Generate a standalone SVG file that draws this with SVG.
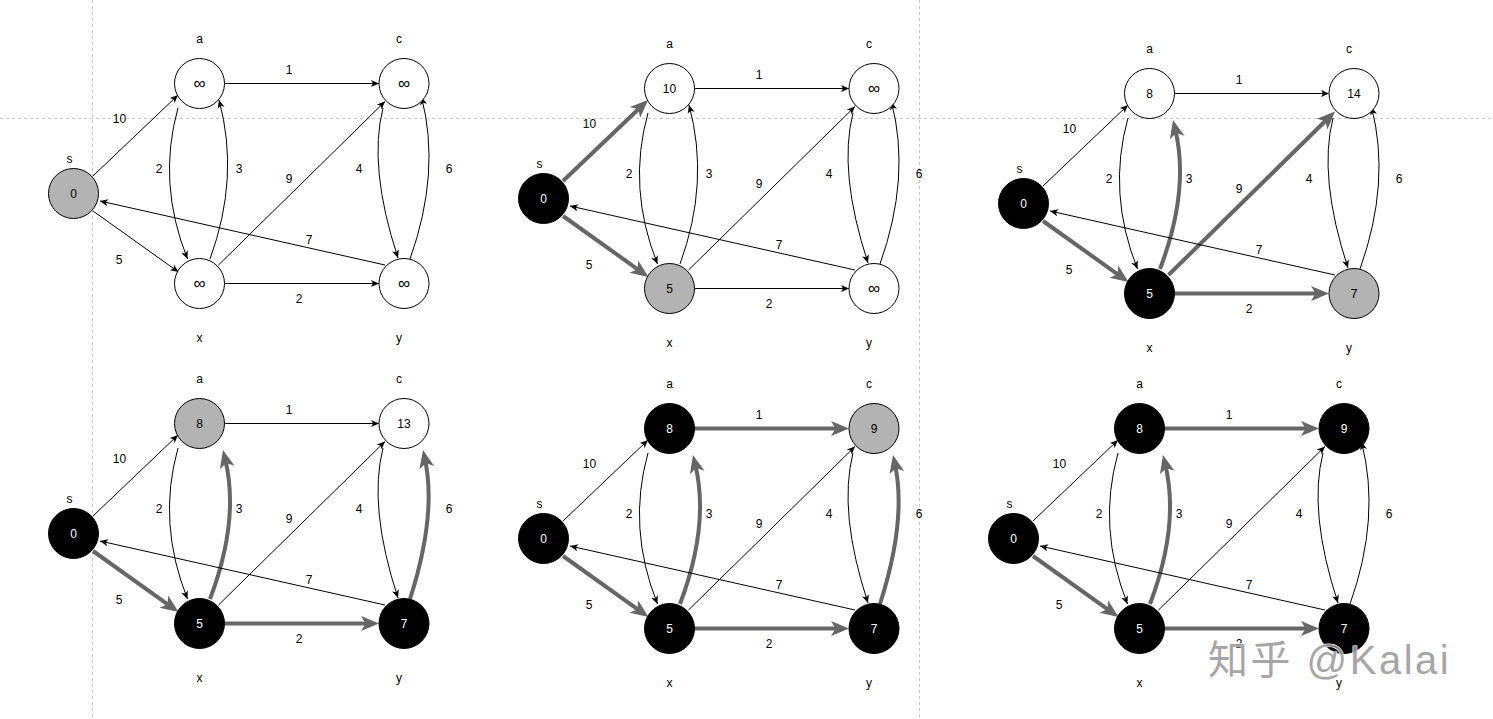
<svg xmlns="http://www.w3.org/2000/svg" width="1493" height="719" viewBox="0 0 1493 719">
<style>
.guide{stroke:#c8c8c8;stroke-width:1;stroke-dasharray:3 3;fill:none}
.e{stroke:#000;stroke-width:1;fill:none;marker-end:url(#ah)}
.E{stroke:#666;stroke-width:4;fill:none;marker-end:url(#ahT)}
.nw{fill:#fff;stroke:#000;stroke-width:1}
.ng{fill:#b3b3b3;stroke:#000;stroke-width:1}
.nb{fill:#000;stroke:#000;stroke-width:1}
text{font-family:"Liberation Sans",Arial,sans-serif;font-size:12px;text-anchor:middle;fill:#000}
.w{fill:#fff}
.inf{font-size:17px}
.wm{font-family:"Liberation Sans","Noto Sans CJK SC",sans-serif;font-size:40px;text-anchor:start;fill:#9a9a9a;fill-opacity:0.9;stroke:#fff;stroke-width:1;paint-order:stroke;letter-spacing:2.5px}
</style>
<defs>
<marker id="ah" markerUnits="userSpaceOnUse" markerWidth="10" markerHeight="8" refX="8" refY="3.5" orient="auto" overflow="visible"><path d="M0,0 L8,3.5 L0,7 L2,3.5 z" fill="#000"/></marker>
<marker id="ahT" markerUnits="userSpaceOnUse" markerWidth="19" markerHeight="16" refX="9" refY="7.5" orient="auto" overflow="visible"><path d="M0,0 L18,7.5 L0,15 L4.5,7.5 z" fill="#666"/></marker>
</defs>
<rect width="1493" height="719" fill="#fff"/>
<g id="guides">
<line class="guide" x1="0" y1="118.5" x2="1493" y2="118.5"/>
<line class="guide" x1="92.5" y1="0" x2="92.5" y2="719"/>
<line class="guide" x1="919.5" y1="0" x2="919.5" y2="719"/>
</g>

<g id="panel1" transform="translate(0,0)">
<g id="p1-connectors">
<path class="e" d="M93,176 L178,95"/>
<path class="e" d="M93,211 L178.5,272"/>
<path class="e" d="M224.5,83.5 L379,83.5"/>
<path class="e" d="M224.5,283.5 L379,283.5"/>
<path class="e" d="M178,108 Q157,183 187.5,259"/>
<path class="e" d="M210,259 Q240,177 219,100"/>
<path class="e" d="M218.5,265 L385,101.5"/>
<path class="e" d="M383,108 Q368,167 398,258"/>
<path class="e" d="M410,259 Q441,172 421.5,97"/>
<path class="e" d="M385,265 L100,201"/>
<text x="119.5" y="122.5">10</text><text x="289" y="73.5">1</text><text x="159" y="172.5">2</text><text x="239" y="172.5">3</text><text x="289" y="182.5">9</text><text x="359" y="172.5">4</text><text x="449" y="172.5">6</text><text x="309" y="243.5">7</text><text x="119" y="263.5">5</text><text x="299" y="302.5">2</text>
</g>
<g id="p1-s"><circle class="ng" cx="73.5" cy="193.5" r="25"/><text x="73.5" y="197.8">0</text><text x="69.5" y="162.7">s</text></g>
<g id="p1-a"><circle class="nw" cx="199.5" cy="83.5" r="25"/><text class="inf" x="199.5" y="89">∞</text><text x="199.5" y="43.3">a</text></g>
<g id="p1-c"><circle class="nw" cx="404" cy="83.5" r="25"/><text class="inf" x="404" y="89">∞</text><text x="399" y="43.3">c</text></g>
<g id="p1-x"><circle class="nw" cx="199.5" cy="283.5" r="25"/><text class="inf" x="199.5" y="289">∞</text><text x="199.5" y="342">x</text></g>
<g id="p1-y"><circle class="nw" cx="404" cy="283.5" r="25"/><text class="inf" x="404" y="289">∞</text><text x="399" y="342">y</text></g>
</g>

<g id="panel2" transform="translate(470,5)">
<g id="p2-connectors">
<path class="E" d="M93,176 L171.5,101.2"/>
<path class="E" d="M93,211 L171.2,266.8"/>
<path class="e" d="M224.5,83.5 L379,83.5"/>
<path class="e" d="M224.5,283.5 L379,283.5"/>
<path class="e" d="M178,108 Q157,183 187.5,259"/>
<path class="e" d="M210,259 Q240,177 219,100"/>
<path class="e" d="M218.5,265 L385,101.5"/>
<path class="e" d="M383,108 Q368,167 398,258"/>
<path class="e" d="M410,259 Q441,172 421.5,97"/>
<path class="e" d="M385,265 L100,201"/>
<text x="119.5" y="122.5">10</text><text x="289" y="73.5">1</text><text x="159" y="172.5">2</text><text x="239" y="172.5">3</text><text x="289" y="182.5">9</text><text x="359" y="172.5">4</text><text x="449" y="172.5">6</text><text x="309" y="243.5">7</text><text x="119" y="263.5">5</text><text x="299" y="302.5">2</text>
</g>
<g id="p2-s"><circle class="nb" cx="73.5" cy="193.5" r="25"/><text class="w" x="73.5" y="197.8">0</text><text x="69.5" y="162.7">s</text></g>
<g id="p2-a"><circle class="nw" cx="199.5" cy="83.5" r="25"/><text x="199.5" y="87.8">10</text><text x="199.5" y="43.3">a</text></g>
<g id="p2-c"><circle class="nw" cx="404" cy="83.5" r="25"/><text class="inf" x="404" y="89">∞</text><text x="399" y="43.3">c</text></g>
<g id="p2-x"><circle class="ng" cx="199.5" cy="283.5" r="25"/><text x="199.5" y="287.8">5</text><text x="199.5" y="342">x</text></g>
<g id="p2-y"><circle class="nw" cx="404" cy="283.5" r="25"/><text class="inf" x="404" y="289">∞</text><text x="399" y="342">y</text></g>
</g>

<g id="panel3" transform="translate(950,10)">
<g id="p3-connectors">
<path class="e" d="M93,176 L178,95"/>
<path class="E" d="M93,211 L171.2,266.8"/>
<path class="e" d="M224.5,83.5 L379,83.5"/>
<path class="E" d="M224.5,283.5 L370,283.5"/>
<path class="e" d="M178,108 Q157,183 187.5,259"/>
<path class="E" d="M210,259 Q240,180 225.1,118.7"/>
<path class="E" d="M218.5,265 L378.6,107.8"/>
<path class="e" d="M383,108 Q368,167 398,258"/>
<path class="e" d="M410,259 Q441,172 421.5,97"/>
<path class="e" d="M385,265 L100,201"/>
<text x="119.5" y="122.5">10</text><text x="289" y="73.5">1</text><text x="159" y="172.5">2</text><text x="239" y="172.5">3</text><text x="289" y="182.5">9</text><text x="359" y="172.5">4</text><text x="449" y="172.5">6</text><text x="309" y="243.5">7</text><text x="119" y="263.5">5</text><text x="299" y="302.5">2</text>
</g>
<g id="p3-s"><circle class="nb" cx="73.5" cy="193.5" r="25"/><text class="w" x="73.5" y="197.8">0</text><text x="69.5" y="162.7">s</text></g>
<g id="p3-a"><circle class="nw" cx="199.5" cy="83.5" r="25"/><text x="199.5" y="87.8">8</text><text x="199.5" y="43.3">a</text></g>
<g id="p3-c"><circle class="nw" cx="404" cy="83.5" r="25"/><text x="404" y="87.8">14</text><text x="399" y="43.3">c</text></g>
<g id="p3-x"><circle class="nb" cx="199.5" cy="283.5" r="25"/><text class="w" x="199.5" y="287.8">5</text><text x="199.5" y="342">x</text></g>
<g id="p3-y"><circle class="ng" cx="404" cy="283.5" r="25"/><text x="404" y="287.8">7</text><text x="399" y="342">y</text></g>
</g>

<g id="panel4" transform="translate(0,340)">
<g id="p4-connectors">
<path class="e" d="M93,176 L178,95"/>
<path class="E" d="M93,211 L171.2,266.8"/>
<path class="e" d="M224.5,83.5 L379,83.5"/>
<path class="E" d="M224.5,283.5 L370,283.5"/>
<path class="e" d="M178,108 Q157,183 187.5,259"/>
<path class="E" d="M210,259 Q240,180 225.1,118.7"/>
<path class="e" d="M218.5,265 L385,101.5"/>
<path class="e" d="M383,108 Q368,167 398,258"/>
<path class="E" d="M410,259 Q437,175 424.9,118.8"/>
<path class="e" d="M385,265 L100,201"/>
<text x="119.5" y="122.5">10</text><text x="289" y="73.5">1</text><text x="159" y="172.5">2</text><text x="239" y="172.5">3</text><text x="289" y="182.5">9</text><text x="359" y="172.5">4</text><text x="449" y="172.5">6</text><text x="309" y="243.5">7</text><text x="119" y="263.5">5</text><text x="299" y="302.5">2</text>
</g>
<g id="p4-s"><circle class="nb" cx="73.5" cy="193.5" r="25"/><text class="w" x="73.5" y="197.8">0</text><text x="69.5" y="162.7">s</text></g>
<g id="p4-a"><circle class="ng" cx="199.5" cy="83.5" r="25"/><text x="199.5" y="87.8">8</text><text x="199.5" y="43.3">a</text></g>
<g id="p4-c"><circle class="nw" cx="404" cy="83.5" r="25"/><text x="404" y="87.8">13</text><text x="399" y="43.3">c</text></g>
<g id="p4-x"><circle class="nb" cx="199.5" cy="283.5" r="25"/><text class="w" x="199.5" y="287.8">5</text><text x="199.5" y="342">x</text></g>
<g id="p4-y"><circle class="nb" cx="404" cy="283.5" r="25"/><text class="w" x="404" y="287.8">7</text><text x="399" y="342">y</text></g>
</g>

<g id="panel5" transform="translate(470,345)">
<g id="p5-connectors">
<path class="e" d="M93,176 L178,95"/>
<path class="E" d="M93,211 L171.2,266.8"/>
<path class="E" d="M224.5,83.5 L370,83.5"/>
<path class="E" d="M224.5,283.5 L370,283.5"/>
<path class="e" d="M178,108 Q157,183 187.5,259"/>
<path class="E" d="M210,259 Q240,180 225.1,118.7"/>
<path class="e" d="M218.5,265 L385,101.5"/>
<path class="e" d="M383,108 Q368,167 398,258"/>
<path class="E" d="M410,259 Q437,175 424.9,118.8"/>
<path class="e" d="M385,265 L100,201"/>
<text x="119.5" y="122.5">10</text><text x="289" y="73.5">1</text><text x="159" y="172.5">2</text><text x="239" y="172.5">3</text><text x="289" y="182.5">9</text><text x="359" y="172.5">4</text><text x="449" y="172.5">6</text><text x="309" y="243.5">7</text><text x="119" y="263.5">5</text><text x="299" y="302.5">2</text>
</g>
<g id="p5-s"><circle class="nb" cx="73.5" cy="193.5" r="25"/><text class="w" x="73.5" y="197.8">0</text><text x="69.5" y="162.7">s</text></g>
<g id="p5-a"><circle class="nb" cx="199.5" cy="83.5" r="25"/><text class="w" x="199.5" y="87.8">8</text><text x="199.5" y="43.3">a</text></g>
<g id="p5-c"><circle class="ng" cx="404" cy="83.5" r="25"/><text x="404" y="87.8">9</text><text x="399" y="43.3">c</text></g>
<g id="p5-x"><circle class="nb" cx="199.5" cy="283.5" r="25"/><text class="w" x="199.5" y="287.8">5</text><text x="199.5" y="342">x</text></g>
<g id="p5-y"><circle class="nb" cx="404" cy="283.5" r="25"/><text class="w" x="404" y="287.8">7</text><text x="399" y="342">y</text></g>
</g>

<g id="panel6" transform="translate(940,345)">
<g id="p6-connectors">
<path class="e" d="M93,176 L178,95"/>
<path class="E" d="M93,211 L171.2,266.8"/>
<path class="E" d="M224.5,83.5 L370,83.5"/>
<path class="E" d="M224.5,283.5 L370,283.5"/>
<path class="e" d="M178,108 Q157,183 187.5,259"/>
<path class="E" d="M210,259 Q240,180 225.1,118.7"/>
<path class="e" d="M218.5,265 L385,101.5"/>
<path class="e" d="M383,108 Q368,167 398,258"/>
<path class="e" d="M410,259 Q441,172 421.5,97"/>
<path class="e" d="M385,265 L100,201"/>
<text x="119.5" y="122.5">10</text><text x="289" y="73.5">1</text><text x="159" y="172.5">2</text><text x="239" y="172.5">3</text><text x="289" y="182.5">9</text><text x="359" y="172.5">4</text><text x="449" y="172.5">6</text><text x="309" y="243.5">7</text><text x="119" y="263.5">5</text><text x="299" y="302.5">2</text>
</g>
<g id="p6-s"><circle class="nb" cx="73.5" cy="193.5" r="25"/><text class="w" x="73.5" y="197.8">0</text><text x="69.5" y="162.7">s</text></g>
<g id="p6-a"><circle class="nb" cx="199.5" cy="83.5" r="25"/><text class="w" x="199.5" y="87.8">8</text><text x="199.5" y="43.3">a</text></g>
<g id="p6-c"><circle class="nb" cx="404" cy="83.5" r="25"/><text class="w" x="404" y="87.8">9</text><text x="399" y="43.3">c</text></g>
<g id="p6-x"><circle class="nb" cx="199.5" cy="283.5" r="25"/><text class="w" x="199.5" y="287.8">5</text><text x="199.5" y="342">x</text></g>
<g id="p6-y"><circle class="nb" cx="404" cy="283.5" r="25"/><text class="w" x="404" y="287.8">7</text><text x="399" y="342">y</text></g>
</g>

<g id="watermark"><text class="wm" x="1208" y="674">知乎 @Kalai</text></g>
</svg>
